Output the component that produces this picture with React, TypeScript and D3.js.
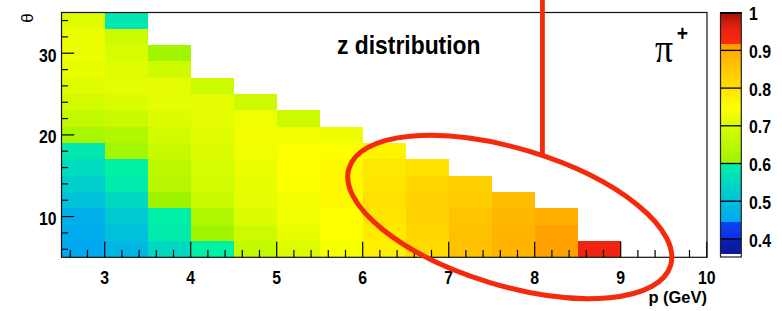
import React from 'react';
import * as d3 from 'd3';

// ---- data ----
const pLowEdges = [2.5, 3, 3.5, 4, 4.5, 5, 5.5, 6, 6.5, 7, 7.5, 8, 8.5];
const pBinWidth = 0.5;
const thetaLowEdges = [5, 7, 9, 11, 13, 15, 17, 19, 21, 23, 25, 27, 29, 31, 33];
const thetaBinWidth = 2;
// z values per p column, listed from the lowest theta bin upward
const zByColumn: number[][] = [
  [0.447, 0.455, 0.465, 0.505, 0.53, 0.555, 0.58, 0.62, 0.665, 0.69, 0.71, 0.72, 0.725, 0.727, 0.71],
  [0.478, 0.5, 0.52, 0.55, 0.585, 0.597, 0.612, 0.635, 0.675, 0.705, 0.715, 0.71, 0.7, 0.68, 0.577],
  [0.548, 0.585, 0.595, 0.603, 0.645, 0.655, 0.672, 0.69, 0.705, 0.715, 0.715, 0.685, 0.607],
  [0.597, 0.61, 0.633, 0.673, 0.687, 0.695, 0.705, 0.71, 0.715, 0.715, 0.68],
  [0.667, 0.68, 0.705, 0.715, 0.72, 0.725, 0.73, 0.735, 0.73, 0.68],
  [0.705, 0.72, 0.73, 0.735, 0.745, 0.75, 0.745, 0.735, 0.68],
  [0.74, 0.747, 0.75, 0.76, 0.762, 0.76, 0.745, 0.727],
  [0.776, 0.782, 0.794, 0.8, 0.794, 0.787, 0.768],
  [0.81, 0.82, 0.83, 0.83, 0.82, 0.797],
  [0.864, 0.864, 0.857, 0.842, 0.833],
  [0.886, 0.886, 0.878, 0.871],
  [0.913, 0.913, 0.897],
  [0.945],
];
const xTicks = [3, 4, 5, 6, 7, 8, 9, 10];
const xTickLabels = ['3', '4', '5', '6', '7', '8', '9', '10'];
const yTicks = [10, 20, 30];
const yTickLabels = ['10', '20', '30'];
const zTicks = [0.4, 0.5, 0.6, 0.7, 0.8, 0.9, 1];
const zTickLabels = ['0.4', '0.5', '0.6', '0.7', '0.8', '0.9', '1'];
const paletteStops = [0.36, 0.4, 0.4001, 0.445, 0.4451, 0.5, 0.6, 0.6001, 0.7, 0.75, 0.8, 0.85, 0.9, 0.9001, 0.918, 0.9181, 0.96, 1.0];
const paletteColors = ['#0c169a', '#0c1eaa', '#0a30f0', '#0a44ea', '#00a8f0', '#00c0dc', '#00f2a4', '#9cf400', '#d8fc00', '#ffff00', '#ffe000', '#ffc800', '#ffac00', '#ffa400', '#ffa000', '#ff2c10', '#e82010', '#a01400'];
const title = 'z distribution';
const xTitle = 'p (GeV)';
const yTitle = 'θ';
const particle = 'π';
const particleCharge = '+';
// annotation (hand drawn highlight), in data units
const annCenter = { p: 7.71, theta: 9.95 };
const annLineP = 8.09;
const annLineThetaEnd = 17.4;

// ---- layout ----
const W = 782, H = 311;
const x = d3.scaleLinear().domain([2.5, 10]).range([61.7, 706.7]);
const y = d3.scaleLinear().domain([5, 35]).range([257.4, 12.4]);
const zMin = 0.352, zMax = 1;
const yz = d3.scaleLinear().domain([zMin, zMax]).range([257, 12.7]);
const color = d3.scaleLinear<string>().domain(paletteStops).range(paletteColors).interpolate(d3.interpolateRgb).clamp(true);

const SX = 0.88;
const FONT = "'Liberation Sans', Arial, Helvetica, sans-serif";

function SText({ x, y, anchor = 'start', size = 18, weight = 'bold', family = FONT, sx = SX, children }: any) {
  return (
    <g transform={`translate(${x},${y}) scale(${sx},1)`}>
      <text textAnchor={anchor} fontSize={size} fontWeight={weight} fontFamily={family} fill="#000">{children}</text>
    </g>
  );
}

export default function App() {
  const cells: any[] = [];
  zByColumn.forEach((col, ci) => {
    col.forEach((z, ri) => {
      const p0 = pLowEdges[ci];
      const t0 = thetaLowEdges[ri];
      cells.push({ p0, t0, z, key: `${ci}-${ri}` });
    });
  });

  const xMinor: number[] = [];
  for (let i = 13; i <= 50; i++) if (i % 5 !== 0) xMinor.push(i * 0.2);
  const yMinor: number[] = [];
  for (let v = 6; v <= 34; v += 2) if (v % 10 !== 0) yMinor.push(v);

  const barSlices: number[] = [];
  for (let z = 0.36; z < 1; z += 0.0025) barSlices.push(z);

  const bottom = y(5);
  const left = x(2.5);
  const cx = x(annCenter.p), cy = y(annCenter.theta);
  const lx = x(annLineP);

  return (
    <svg width={W} height={H} style={{ position: 'absolute', left: 0, top: 0, background: '#fff' }}>
      <rect x={0} y={0} width={W} height={H} fill="#fff" />
      {/* heatmap cells */}
      <g shapeRendering="crispEdges">
        {cells.map(c => (
          <rect key={c.key}
            x={x(c.p0)} y={y(c.t0 + thetaBinWidth)}
            width={x(c.p0 + pBinWidth) - x(c.p0)}
            height={y(c.t0) - y(c.t0 + thetaBinWidth)}
            fill={color(c.z)} />
        ))}
      </g>
      {/* ticks */}
      <g stroke="#000" strokeWidth={1.2}>
        {xTicks.map(t => <line key={'xm' + t} x1={x(t)} x2={x(t)} y1={bottom} y2={bottom - 15.7} />)}
        {xMinor.map(t => <line key={'xn' + t} x1={x(t)} x2={x(t)} y1={bottom} y2={bottom - 7.5} />)}
        {yTicks.map(t => <line key={'ym' + t} x1={left} x2={left + 12.5} y1={y(t)} y2={y(t)} />)}
        {yMinor.map(t => <line key={'yn' + t} x1={left} x2={left + 6.3} y1={y(t)} y2={y(t)} />)}
      </g>
      {/* frame */}
      <rect x={61.5} y={12.5} width={645.5} height={244.8} fill="none" stroke="#111" strokeWidth={1.2} />
      {/* tick labels */}
      {xTicks.map((t, i) => <SText key={'xl' + t} x={x(t)} y={283.5} anchor="middle">{xTickLabels[i]}</SText>)}
      {yTicks.map((t, i) => <SText key={'yl' + t} x={56.5} y={y(t) + 8.5} anchor="end">{yTickLabels[i]}</SText>)}
      {/* axis titles */}
      <SText x={707} y={303} anchor="end" size={17} sx={0.97}>{xTitle}</SText>
      <g transform={`translate(33,13.3) rotate(-90)`}>
        <text textAnchor="end" fontSize={17} fontFamily="'Liberation Sans', 'DejaVu Sans', sans-serif" fill="#000">{yTitle}</text>
      </g>
      {/* title */}
      <SText x={337} y={53.5} size={26}>{title}</SText>
      {/* particle label */}
      <SText x={664} y={62} anchor="middle" size={42} weight="normal" family="'Liberation Serif', 'Times New Roman', serif" sx={0.85}>{particle}</SText>
      <SText x={682.5} y={41} anchor="middle" size={22}>{particleCharge}</SText>
      {/* palette */}
      <rect x={720.5} y={12.7} width={20.8} height={244.3} fill="#fff" />
      <g shapeRendering="crispEdges">
        {barSlices.map(z => (
          <rect key={'b' + z.toFixed(4)} x={720.5} width={20.8} y={yz(Math.min(1, z + 0.0025))} height={yz(z) - yz(Math.min(1, z + 0.0025)) + 0.3} fill={color(z + 0.00125)} />
        ))}
      </g>
      <g stroke="#000" strokeWidth={1.3}>
        {zTicks.filter(t => t < 1).map(t => <line key={'zt' + t} x1={720.5} x2={741.3} y1={yz(t)} y2={yz(t)} />)}
      </g>
      <rect x={720.5} y={12.7} width={20.8} height={244.3} fill="none" stroke="#222" strokeWidth={1.2} />
      <line x1={720} x2={741.8} y1={13} y2={13} stroke="#000" strokeWidth={2} />
      {zTicks.map((t, i) => <SText key={'zl' + t} x={749} y={yz(t) + 7.6}>{zTickLabels[i]}</SText>)}
      {/* annotation */}
      <line x1={lx} x2={lx} y1={0} y2={y(annLineThetaEnd)} stroke="#f52a0a" strokeWidth={4.8} />
      <ellipse cx={cx} cy={cy} rx={168} ry={68.5} transform={`rotate(16.8 ${cx} ${cy})`} fill="none" stroke="#f52a0a" strokeWidth={5} />
    </svg>
  );
}
